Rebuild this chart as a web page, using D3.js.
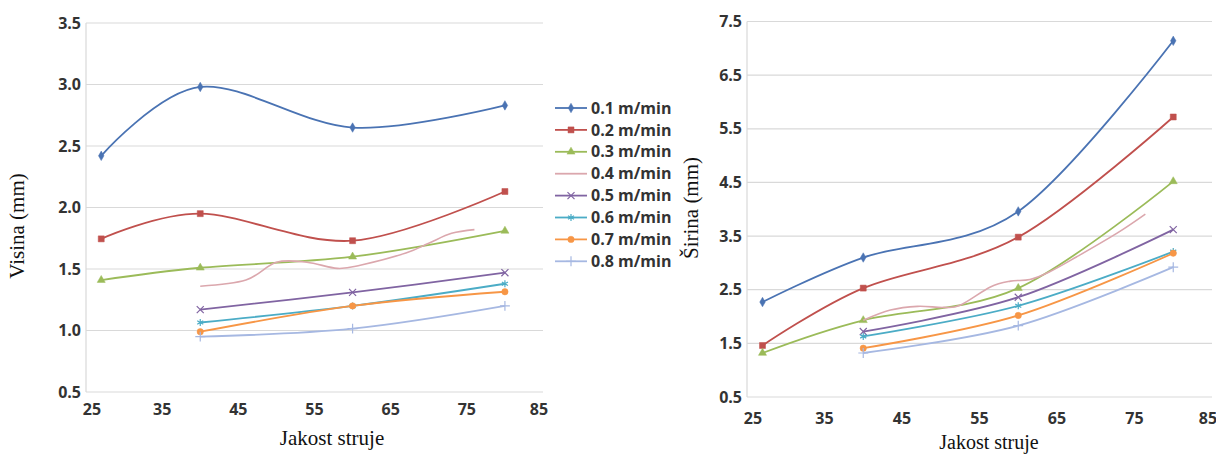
<!DOCTYPE html>
<html>
<head>
<meta charset="utf-8">
<script src="https://cdn.jsdelivr.net/npm/d3@7"></script>
<style>
  body { margin: 0; background: #fff; }
  svg { display: block; }
  .tick-label { font-family: "Open Sans", sans-serif; font-weight: 700; font-size: 16px; fill: #333; }
  .axis-title { font-family: "Liberation Serif", "Times New Roman", serif; font-size: 21px; fill: #111; }
  .legend-label { font-family: "Open Sans", sans-serif; font-weight: 700; font-size: 16px; fill: #333; }
</style>
</head>
<body>
<svg id="chart" width="1216" height="454"></svg>
<script>
// ---- data ----
const speeds  = ["0.1 m/min", "0.2 m/min", "0.3 m/min", "0.4 m/min",
                 "0.5 m/min", "0.6 m/min", "0.7 m/min", "0.8 m/min"];
const colors  = ["#4a73b3", "#c0504d", "#9bbb59", "#dba7ad",
                 "#8064a2", "#4bacc6", "#f79646", "#a6b8e2"];
const markers = ["diamond", "square", "triangle", "none",
                 "times", "asterisk", "circle", "plus"];

const xTicks      = [25, 35, 45, 55, 65, 75, 85];
const visinaTicks = [0.5, 1.0, 1.5, 2.0, 2.5, 3.0, 3.5];
const sirinaTicks = [0.5, 1.5, 2.5, 3.5, 4.5, 5.5, 6.5, 7.5];

const currentAll   = [27, 40, 60, 80];
const currentShort = [40, 60, 80];

// Visina (left chart)
const visina01 = [2.42, 2.98, 2.65, 2.83];
const visina02 = [1.745, 1.95, 1.73, 2.13];
const visina03 = [1.41, 1.51, 1.60, 1.81];
const visina04X = [40, 46, 50, 54, 58, 61, 67, 70, 73, 76];
const visina04  = [1.36, 1.41, 1.555, 1.555, 1.505, 1.53, 1.63, 1.71, 1.79, 1.82];
const visina05 = [1.17, 1.31, 1.47];
const visina06 = [1.065, 1.20, 1.38];
const visina07 = [0.99, 1.20, 1.315];
const visina08 = [0.95, 1.015, 1.20];

// Sirina (right chart)
const sirina01 = [2.27, 3.10, 3.96, 7.14];
const sirina02 = [1.46, 2.53, 3.48, 5.72];
const sirina03 = [1.32, 1.93, 2.53, 4.52];
const sirina04X = [40, 43.5, 47, 50.3, 52.5, 56.4, 59, 61.5, 64, 67.5, 72.7, 76.4];
const sirina04  = [1.93, 2.12, 2.19, 2.17, 2.21, 2.55, 2.66, 2.69, 2.83, 3.11, 3.55, 3.91];
const sirina05 = [1.72, 2.36, 3.62];
const sirina06 = [1.63, 2.20, 3.21];
const sirina07 = [1.41, 2.02, 3.18];
const sirina08 = [1.32, 1.83, 2.92];

const zip = (xs, ys) => xs.map((x, i) => ({ x, y: ys[i] }));

const visinaSeries = [
  zip(currentAll, visina01), zip(currentAll, visina02), zip(currentAll, visina03),
  zip(visina04X, visina04),
  zip(currentShort, visina05), zip(currentShort, visina06),
  zip(currentShort, visina07), zip(currentShort, visina08)
];
const sirinaSeries = [
  zip(currentAll, sirina01), zip(currentAll, sirina02), zip(currentAll, sirina03),
  zip(sirina04X, sirina04),
  zip(currentShort, sirina05), zip(currentShort, sirina06),
  zip(currentShort, sirina07), zip(currentShort, sirina08)
];

const svg = d3.select("#chart");

const symbolFor = {
  diamond:  { type: d3.symbolDiamond,  size: 26, fill: true },
  square:   { type: d3.symbolSquare,   size: 36, fill: true },
  triangle: { type: d3.symbolTriangle, size: 28, fill: true },
  circle:   { type: d3.symbolCircle,   size: 32, fill: true },
  times:    { type: d3.symbolTimes,    size: 34, fill: false },
  asterisk: { type: d3.symbolAsterisk, size: 34, fill: false },
  plus:     { type: d3.symbolPlus,     size: 34, fill: false }
};

function drawMarker(g, kind, color, x, y) {
  const s = symbolFor[kind];
  if (!s) return;
  g.append("path")
    .attr("transform", `translate(${x},${y})`)
    .attr("d", d3.symbol(s.type, s.size)())
    .attr("fill", s.fill ? color : "none")
    .attr("stroke", color)
    .attr("stroke-width", s.fill ? 0.5 : 1.2);
}

function drawChart(opts) {
  const { left, right, top, bottom, yDomain, yTicks, series, yTitle, yTitleX, yTitleY,
          xTitleX, xTitleY, xTitleSize, xLabelY } = opts;

  const x = d3.scaleLinear().domain([25, 85]).range([left, right]);
  const y = d3.scaleLinear().domain(yDomain).range([bottom, top]);

  const g = svg.append("g");

  // gridlines
  g.selectAll("line.grid")
    .data(yTicks)
    .join("line")
      .attr("class", "grid")
      .attr("x1", left).attr("x2", right)
      .attr("y1", d => y(d)).attr("y2", d => y(d))
      .attr("stroke", "#d9d9d9").attr("stroke-width", 1.2);

  // left axis line
  g.append("line")
    .attr("x1", left).attr("x2", left)
    .attr("y1", y(yDomain[1])).attr("y2", y(yDomain[0]))
    .attr("stroke", "#d9d9d9").attr("stroke-width", 1.2);

  // y tick labels
  g.selectAll("text.ytick")
    .data(yTicks)
    .join("text")
      .attr("class", "tick-label ytick")
      .attr("x", left - 5)
      .attr("y", d => y(d))
      .attr("dy", "0.35em")
      .attr("text-anchor", "end")
      .text(d => d3.format(".1f")(d));

  // x tick labels
  g.selectAll("text.xtick")
    .data(xTicks)
    .join("text")
      .attr("class", "tick-label xtick")
      .attr("x", d => x(d) + (d === 25 ? 6 : d === 85 ? -4 : 0))
      .attr("y", xLabelY)
      .attr("dy", "0.35em")
      .attr("text-anchor", "middle")
      .text(d => d);

  // lines
  const line = d3.line()
    .x(d => x(d.x))
    .y(d => y(d.y))
    .curve(d3.curveCatmullRom.alpha(0));

  series.forEach((pts, i) => {
    g.append("path")
      .datum(pts)
      .attr("d", line)
      .attr("fill", "none")
      .attr("stroke", colors[i])
      .attr("stroke-width", i === 3 ? 1.6 : 1.8);
    if (markers[i] !== "none") {
      pts.forEach(p => drawMarker(g, markers[i], colors[i], x(p.x), y(p.y)));
    }
  });

  // titles
  g.append("text")
    .attr("class", "axis-title")
    .attr("text-anchor", "middle")
    .attr("transform", `translate(${yTitleX},${yTitleY}) rotate(-90)`)
    .text(yTitle);

  g.append("text")
    .attr("class", "axis-title")
    .attr("text-anchor", "middle")
    .attr("x", xTitleX)
    .attr("y", xTitleY)
    .style("font-size", `${xTitleSize}px`)
    .text("Jakost struje");
}

drawChart({
  left: 86, right: 543, top: 23, bottom: 392,
  yDomain: [0.5, 3.5], yTicks: visinaTicks, series: visinaSeries,
  yTitle: "Visina (mm)", yTitleX: 24, yTitleY: 226,
  xTitleX: 332, xTitleY: 445, xTitleSize: 21, xLabelY: 409
});

drawChart({
  left: 747, right: 1212, top: 21.5, bottom: 397,
  yDomain: [0.5, 7.5], yTicks: sirinaTicks, series: sirinaSeries,
  yTitle: "Širina (mm)", yTitleX: 698, yTitleY: 208,
  xTitleX: 989, xTitleY: 449, xTitleSize: 20, xLabelY: 418
});

// legend
const legend = svg.append("g").attr("transform", "translate(555,108)");
speeds.forEach((name, i) => {
  const row = legend.append("g").attr("transform", `translate(0,${i * 21.9})`);
  row.append("line")
    .attr("x1", 0).attr("x2", 32)
    .attr("y1", 0).attr("y2", 0)
    .attr("stroke", colors[i]).attr("stroke-width", 1.8);
  if (markers[i] !== "none") drawMarker(row, markers[i], colors[i], 16, 0);
  row.append("text")
    .attr("class", "legend-label")
    .attr("x", 36)
    .attr("y", 0)
    .attr("dy", "0.35em")
    .text(name);
});
</script>
</body>
</html>
